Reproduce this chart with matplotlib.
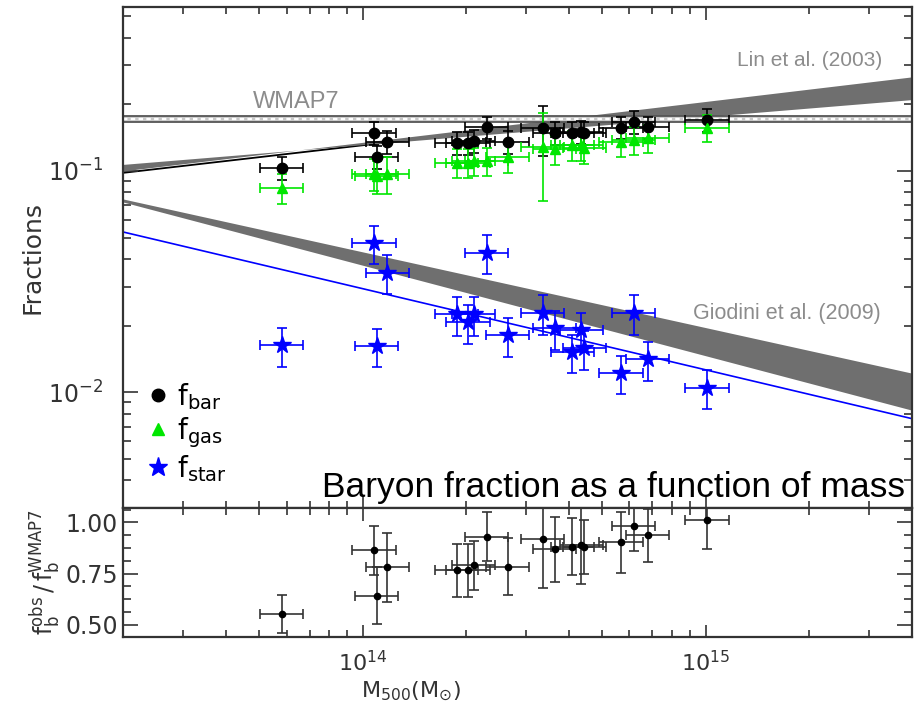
import numpy as np
import matplotlib
matplotlib.use('Agg')
import matplotlib.pyplot as plt
from matplotlib.lines import Line2D
from matplotlib.ticker import NullFormatter, MultipleLocator

# --- data ---
mass = [5.8e13, 1.08e14, 1.10e14, 1.18e14, 1.88e14, 2.03e14, 2.11e14, 2.30e14, 2.65e14,
        3.35e14, 3.63e14, 4.09e14, 4.34e14, 4.43e14, 5.67e14, 6.18e14, 6.79e14, 1.01e15]
mass_err_dex = 0.063

f_bar = [0.103, 0.149, 0.116, 0.135, 0.134, 0.134, 0.137, 0.158, 0.135,
         0.157, 0.149, 0.149, 0.150, 0.149, 0.157, 0.167, 0.158, 0.170]
f_bar_err = [0.012, 0.018, 0.014, 0.016, 0.016, 0.016, 0.016, 0.018, 0.016,
             0.040, 0.018, 0.018, 0.018, 0.018, 0.018, 0.020, 0.018, 0.020]

f_gas = [0.084, 0.097, 0.095, 0.097, 0.109, 0.109, 0.111, 0.111, 0.115,
         0.128, 0.125, 0.131, 0.131, 0.127, 0.135, 0.138, 0.141, 0.157]
f_gas_err = [0.013, 0.016, 0.016, 0.018, 0.016, 0.016, 0.016, 0.016, 0.017,
             0.055, 0.019, 0.020, 0.020, 0.019, 0.020, 0.020, 0.021, 0.022]

f_star = [0.0163, 0.0472, 0.0162, 0.0346, 0.0225, 0.0207, 0.0225, 0.0426, 0.0181,
          0.0228, 0.0195, 0.0152, 0.0191, 0.0158, 0.0122, 0.0228, 0.0141, 0.0105]
f_star_err = [0.0033, 0.0094, 0.0032, 0.0069, 0.0045, 0.0041, 0.0045, 0.0085, 0.0036,
              0.0046, 0.0039, 0.0030, 0.0038, 0.0032, 0.0024, 0.0046, 0.0028, 0.0021]

ratio = [0.554, 0.863, 0.642, 0.780, 0.765, 0.765, 0.790, 0.930, 0.784,
         0.917, 0.868, 0.882, 0.887, 0.880, 0.902, 0.980, 0.936, 1.010]
ratio_err = [0.093, 0.12, 0.14, 0.17, 0.13, 0.13, 0.12, 0.12, 0.14,
             0.24, 0.16, 0.14, 0.19, 0.13, 0.15, 0.12, 0.13, 0.14]

# relations, given at the two ends of the mass range
line_mass = [2e13, 4e15]
wmap7 = [0.167, 0.177]
lin_a = [0.107, 0.210]
lin_b = [0.100, 0.266]
fit_bar = [0.098, 0.252]
giodini_hi = [0.0747, 0.0122]
giodini_lo = [0.0724, 0.0083]
fit_star = [0.053, 0.0076]

# --- plotting ---
mass = np.array(mass)
xlo = mass * (1 - 10 ** -mass_err_dex)
xhi = mass * (10 ** mass_err_dex - 1)

fig = plt.figure(figsize=(9.17, 7.10), dpi=100)
ax = fig.add_axes([0.1341, 0.2845, 0.8604, 0.7056])
ax2 = fig.add_axes([0.1341, 0.1028, 0.8604, 0.1817], sharex=ax)

ax.set_xscale('log')
ax.set_yscale('log')
ax.set_xlim(2e13, 4e15)
ax.set_ylim(0.003, 0.55)

band_col = '#6f6f6f'
# Lin et al. band (bow-tie) and fit to f_bar
ax.plot(line_mass, fit_bar, color='k', lw=1.3, zorder=1)
ax.fill_between(line_mass, lin_a, lin_b, color=band_col, lw=0, zorder=2)
# WMAP7
ax.fill_between(line_mass, wmap7[0], wmap7[1], color='#c8c8c8', lw=0, zorder=2)
ax.axhline(wmap7[0], color='#555555', lw=1.3, zorder=2)
ax.axhline(wmap7[1], color='#555555', lw=1.3, zorder=2)
ax.axhline(np.sqrt(wmap7[0] * wmap7[1]), color='white', lw=1.6, dashes=(2, 1.5), zorder=2)
# Giodini et al. band and stellar fit
ax.fill_between(line_mass, giodini_lo, giodini_hi, color=band_col, lw=0, zorder=2)
ax.plot(line_mass, fit_star, color='#0000ff', lw=1.2, zorder=2)

eb = dict(capsize=3.5, elinewidth=1.2, capthick=1.2, zorder=3)
ax.errorbar(mass, f_bar, xerr=[xlo, xhi], yerr=f_bar_err, fmt='o', color='k', ms=7.5, **eb)
ax.errorbar(mass, f_gas, xerr=[xlo, xhi], yerr=f_gas_err, fmt='^', color='#00e600', ms=7.5, **eb)
ax.errorbar(mass, f_star, xerr=[xlo, xhi], yerr=f_star_err, fmt='*', color='#0000ff', ms=13, **eb)

txt_grey = '#8c8c8c'
ax.text(4.8e13, 0.193, 'WMAP7', color=txt_grey, fontsize=17, family='Liberation Sans')
ax.text(0.962, 0.894, 'Lin et al. (2003)', color=txt_grey, fontsize=15,
        family='Liberation Sans', ha='right', va='center', transform=ax.transAxes)
ax.text(0.96, 0.389, 'Giodini et al. (2009)', color=txt_grey, fontsize=15.5,
        family='Liberation Sans', ha='right', va='center', transform=ax.transAxes)
ax.text(0.991, 0.022, 'Baryon fraction as a function of mass', color='k', fontsize=25.5,
        family='Liberation Sans', ha='right', va='baseline', transform=ax.transAxes)

handles = [Line2D([], [], ls='', marker='o', color='k', ms=9),
           Line2D([], [], ls='', marker='^', color='#00e600', ms=9),
           Line2D([], [], ls='', marker='*', color='#0000ff', ms=14)]
labels = [r'$\mathrm{f}_{\mathrm{bar}}$', r'$\mathrm{f}_{\mathrm{gas}}$', r'$\mathrm{f}_{\mathrm{star}}$']
ax.legend(handles, labels, loc='lower left', bbox_to_anchor=(0.002, 0.004), frameon=False,
          fontsize=20, handlelength=0.8, handletextpad=0.3, labelspacing=0.12, borderpad=0.3)

ax.set_ylabel('Fractions', fontsize=18, color='#333333', labelpad=3)
ax.yaxis.set_minor_formatter(NullFormatter())
ax.xaxis.set_minor_formatter(NullFormatter())
ax.tick_params(labelbottom=False)

# bottom panel
ax2.errorbar(mass, ratio, xerr=[xlo, xhi], yerr=ratio_err, fmt='o', color='k', ms=4.5,
             ecolor='#333333', capsize=3.5, elinewidth=1.2, capthick=1.2)
ax2.set_ylim(0.44, 1.07)
ax2.set_yticks([0.5, 0.75, 1.0])
ax2.set_yticklabels(['0.50', '0.75', '1.00'])
ax2.yaxis.set_minor_locator(MultipleLocator(0.0625))
ax2.set_ylabel(r'$\mathrm{f_b^{obs}\,/\,f_b^{WMAP7}}$', fontsize=17, color='#333333', labelpad=2)
ax2.set_xlabel(r'$\mathrm{M_{500}(M_{\odot})}$', fontsize=16, color='#333333')
ax2.xaxis.set_label_coords(0.365, -0.33)
ax2.xaxis.set_minor_formatter(NullFormatter())

for a in (ax, ax2):
    a.tick_params(which='both', direction='in', top=True, right=True,
                  labelsize=17, labelcolor='#333333', color='#333333', width=1.2)
    a.tick_params(axis='y', which='major', length=11)
    a.tick_params(axis='y', which='minor', length=6)
    a.tick_params(axis='x', which='major', length=9)
    a.tick_params(axis='x', which='minor', length=5)
    for s in a.spines.values():
        s.set_linewidth(1.6)
        s.set_color('#333333')
ax.tick_params(axis='y', which='major', pad=14)
ax2.tick_params(axis='x', pad=9, labelsize=16)

fig.savefig('out.png', dpi=100)
